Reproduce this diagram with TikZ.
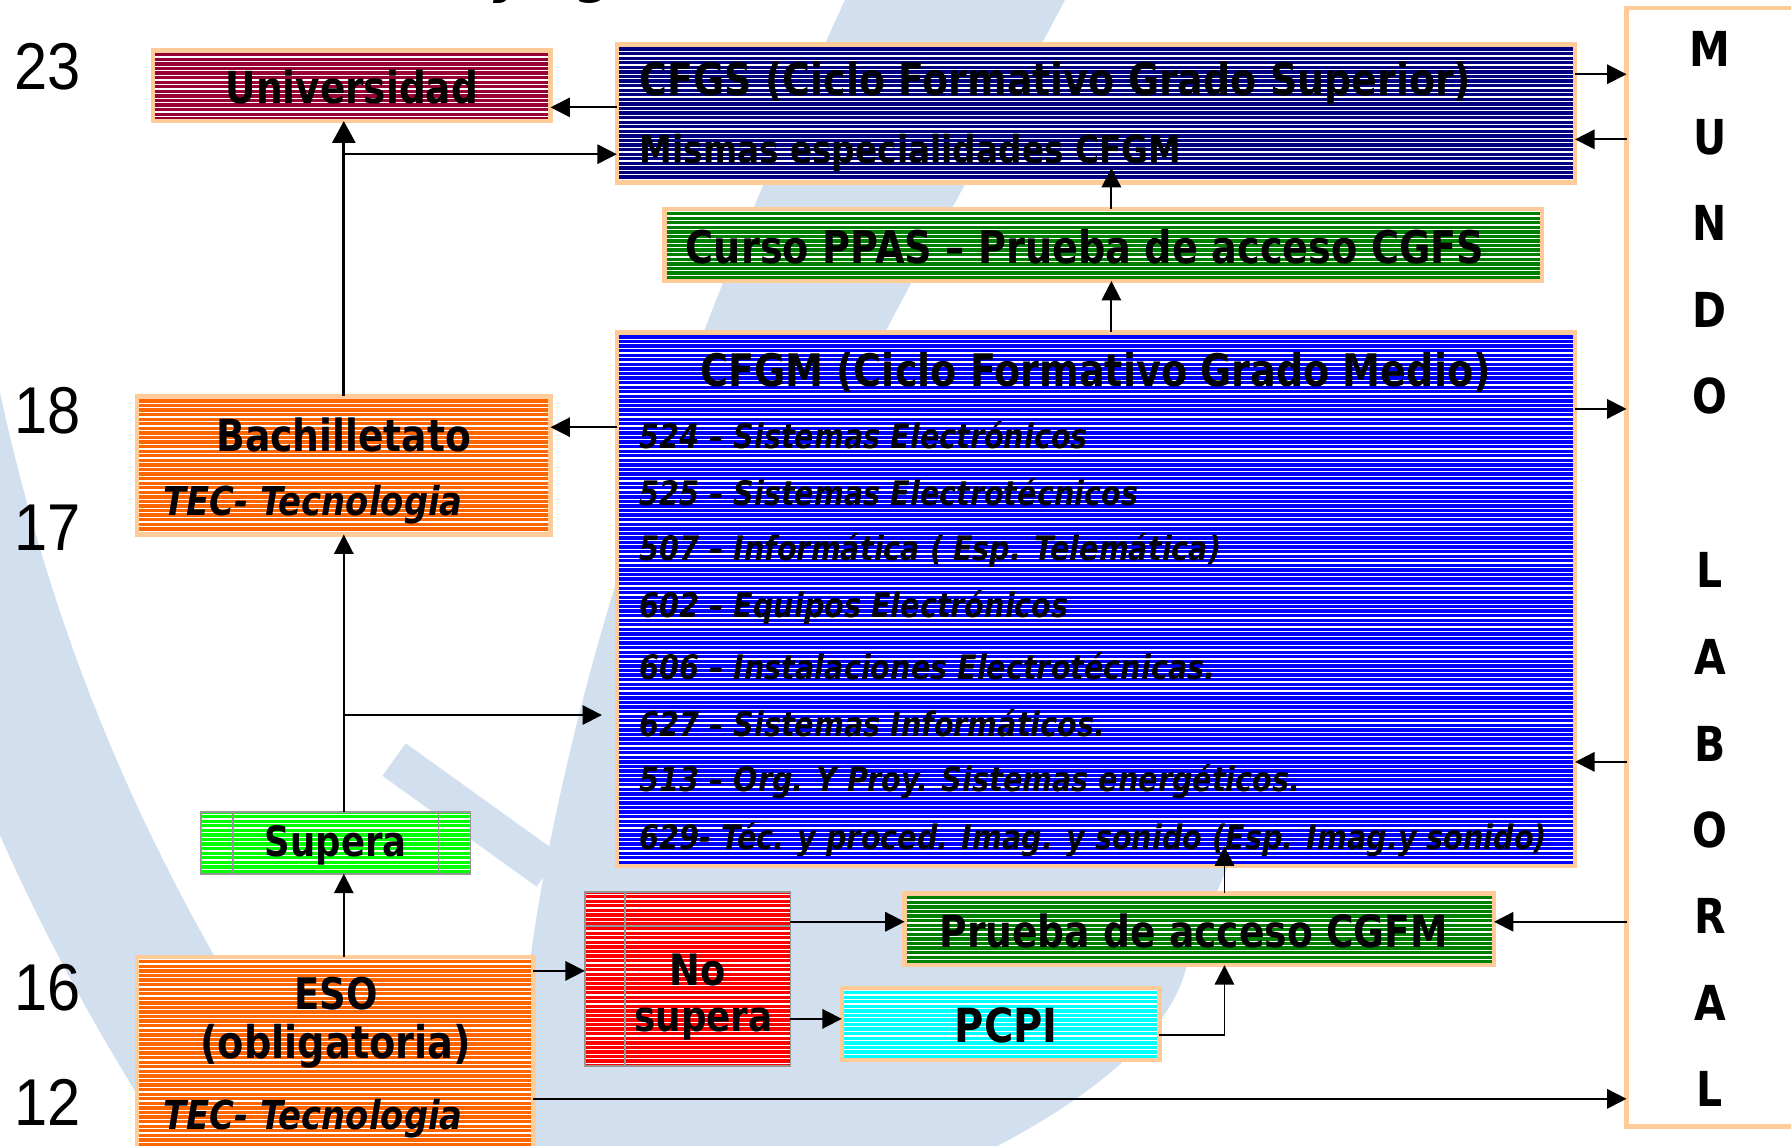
\documentclass[tikz,border=0pt]{standalone}
\usepackage{fontspec}
\setmainfont{DejaVu Sans}[FakeStretch=0.85]
\newfontfamily\numfont{Liberation Sans}
\usetikzlibrary{arrows.meta,fit}
\newlength\pxu \setlength\pxu{0.02cm}
\definecolor{peachc}{RGB}{255,204,153}
\definecolor{univc}{RGB}{153,0,51}
\definecolor{navyc}{RGB}{0,0,128}
\definecolor{greenc}{RGB}{0,128,0}
\definecolor{bluec}{RGB}{0,0,255}
\definecolor{orangec}{RGB}{255,102,0}
\definecolor{limec}{RGB}{0,255,0}
\definecolor{redc}{RGB}{255,0,0}
\definecolor{cyanc}{RGB}{0,255,255}
\definecolor{grayc}{RGB}{150,150,150}
\definecolor{wmc}{RGB}{210,223,238}
\newcommand\bw[2]{\resizebox{#1\pxu}{!}{\bfseries #2}}
\newcommand\biw[2]{\resizebox{#1\pxu}{!}{\bfseries\itshape #2}}
% name, x1, y1, x2, y2, fill colour, border style
\newcommand\stripebox[7]{%
  \fill[#6] (#2,#3) rectangle (#4,#5);
  \begin{scope}
    \clip (#2,#3) rectangle (#4,#5);
    \pgfmathsetmacro\sya{#3+2}\pgfmathsetmacro\syb{#3+6}
    \foreach \yy in {\sya,\syb,...,#5} \draw[stripe] (#2,\yy) -- (#4,\yy);
  \end{scope}
  \node[fit={(#2,#3) (#4,#5)}, inner sep=0pt, outer sep=0pt, #7] (#1) {};
}
\tikzset{
  stripe/.style={draw=white, line width=0.022cm},
  pbox/.style={draw=peachc, line width=0.08cm},
  gbox/.style={draw=grayc, line width=0.03cm},
  gridl/.style={draw=grayc, line width=0.03cm},
  arr/.style={draw=black, line width=0.032cm, -{Triangle[length=0.34cm,width=0.34cm]}},
  arrthick/.style={draw=black, line width=0.054cm, -{Triangle[length=0.38cm,width=0.40cm]}},
  lbl/.style={inner sep=0pt, outer sep=0pt, text=black},
  age/.style={inner sep=0pt, outer sep=0pt, font=\numfont\fontsize{33}{33}\selectfont},
  mletter/.style={inner sep=0pt, outer sep=0pt, font=\bfseries\fontsize{24}{24}\selectfont},
  listitem/.style={inner sep=0pt, outer sep=0pt, anchor=west, font=\bfseries\itshape\fontsize{16.8}{18}\selectfont},
}
\begin{document}
\begin{tikzpicture}[x=0.02cm,y=-0.02cm]
\useasboundingbox (0,0) rectangle (1568,1003);
% watermark
\fill[wmc] (742,-5) .. controls (680,130) and (560,400) .. (500,654)
  .. controls (470,780) and (450,900) .. (456,1010) -- (860,1010)
  .. controls (960,960) and (1030,900) .. (1040,840) -- (1100,700) -- (760,320)
  .. controls (800,240) and (880,100) .. (935,-5) -- cycle;
\draw[wmc, line width=2.4cm] (-70,300) .. controls (-10,620) and (110,850) .. (260,1060);
\draw[wmc, line width=0.7cm] (345,665) -- (480,762);
% helper coordinates
\foreach \h in {65,94,122,135,358,374,626,667,807,850,892,906,962} \coordinate (h\h) at (0,\h);
\coordinate (v973) at (973,0);
\coordinate (v1072) at (1072,0);
% boxes
\stripebox{univ}{134}{44}{482}{106}{univc}{pbox}
\stripebox{cfgs}{540}{39}{1379}{160}{navyc}{pbox}
\stripebox{ppas}{582}{183}{1350}{246}{greenc}{pbox}
\stripebox{cfgm}{540}{291}{1379}{758}{bluec}{pbox}
\stripebox{bach}{120}{347}{482}{468}{orangec}{pbox}
\stripebox{sup}{176}{711}{412}{765}{limec}{gbox}
\stripebox{eso}{120}{838}{467}{1020}{orangec}{pbox}
\stripebox{nosup}{512}{781}{692}{933}{redc}{gbox}
\stripebox{prueba}{792}{782}{1308}{845}{greenc}{pbox}
\stripebox{pcpi}{737}{865}{1015}{928}{cyanc}{pbox}
\node[fit={(1424,7) (1620,986)}, inner sep=0pt, outer sep=0pt, fill=white, pbox] (mundo) {};
\draw[gridl] (204,711) -- (204,765);
\draw[gridl] (384,711) -- (384,765);
\draw[gridl] (547,781) -- (547,933);
\draw[gridl] (512,811) -- (692,811);
% ages
\node[age] (n23) at (42,58) {\scalebox{0.9}[1]{23}};
\node[age] (n18) at (42,360) {\scalebox{0.9}[1]{18}};
\node[age] (n17) at (42,462) {\scalebox{0.9}[1]{17}};
\node[age] (n16) at (42,865) {\scalebox{0.9}[1]{16}};
\node[age] (n12) at (42,965) {\scalebox{0.9}[1]{12}};
% title fragment (cut by the top edge, as in the reference)
\node[lbl, anchor=base west] (ttitle) at (432,-8) {\bfseries\itshape\fontsize{30}{30}\selectfont y\hspace{0.9cm}g};
% texts
\node[lbl] (tuniv) at (308,76) {\bw{221}{Universidad}};
\node[lbl,anchor=west] (tcfgs) at (560,73) {\bw{728}{CFGS (Ciclo Formativo Grado Superior)}};
\node[lbl,anchor=west] (tmis) at (560,134) {\bw{474}{Mismas especialidades CFGM}};
\node[lbl] (tppas) at (950,216) {\bw{699}{Curso PPAS – Prueba de acceso CGFS}};
\node[lbl] (tcfgm) at (959,326) {\bw{692}{CFGM (Ciclo Formativo Grado Medio)}};
\node[listitem] (l1) at (560,381) {524 – Sistemas Electrónicos};
\node[listitem] (l2) at (560,431) {525 – Sistemas Electrotécnicos};
\node[listitem] (l3) at (560,482) {507 – Informática ( Esp. Telemática)};
\node[listitem] (l4) at (560,532) {602 – Equipos Electrónicos};
\node[listitem] (l5) at (560,583) {606 – Instalaciones Electrotécnicas.};
\node[listitem] (l6) at (560,633) {627 – Sistemas Informáticos.};
\node[listitem] (l7) at (560,684) {513 – Org. Y Proy. Sistemas energéticos.};
\node[listitem] (l8) at (560,735) {629- Téc. y proced. Imag. y sonido (Esp. Imag.y sonido)};
\node[lbl] (tbach) at (301,381) {\bw{223}{Bachilletato}};
\node[lbl,anchor=west] (ttec1) at (143,442) {\biw{262}{TEC- Tecnologia}};
\node[lbl] (tsup) at (294,740) {\bw{124}{Supera}};
\node[lbl] (teso) at (294,870) {\bw{73}{ESO}};
\node[lbl] (tobl) at (294,916) {\bw{237}{(obligatoria)}};
\node[lbl,anchor=west] (ttec2) at (143,979) {\biw{262}{TEC- Tecnologia}};
\node[lbl] (tno) at (611,849) {\bw{49}{No}};
\node[lbl] (tnosup) at (616,897) {\bw{121}{supera}};
\node[lbl] (tprueba) at (1045,815) {\bw{445}{Prueba de acceso CGFM}};
\node[lbl] (tpcpi) at (881,898) {\bw{90}{PCPI}};
% MUNDO LABORAL
\node[mletter] (m1) at (1497,43) {M};
\node[mletter] (m2) at (1497,120) {U};
\node[mletter] (m3) at (1497,195) {N};
\node[mletter] (m4) at (1497,271) {D};
\node[mletter] (m5) at (1497,347) {O};
\node[mletter] (m6) at (1497,499) {L};
\node[mletter] (m7) at (1497,575) {A};
\node[mletter] (m8) at (1497,651) {B};
\node[mletter] (m9) at (1497,727) {O};
\node[mletter] (m10) at (1497,802) {R};
\node[mletter] (m11) at (1497,878) {A};
\node[mletter] (m12) at (1497,953) {L};
% connectors
\draw[arr] (cfgs.west |- h94) -- (univ.east |- h94);
\draw[arrthick] (bach.north) -- (bach.north |- univ.south);
\draw[arr] (bach.north |- h135) -- (cfgs.west |- h135);
\draw[arr, shorten >=-0.26cm] (v973 |- ppas.north) -- (v973 |- cfgs.south);
\draw[arr] (v973 |- cfgm.north) -- (v973 |- ppas.south);
\draw[arr] (cfgs.east |- h65) -- (mundo.west |- h65);
\draw[arr] (mundo.west |- h122) -- (cfgs.east |- h122);
\draw[arr] (cfgm.east |- h358) -- (mundo.west |- h358);
\draw[arr] (mundo.west |- h667) -- (cfgm.east |- h667);
\draw[arr] (cfgm.west |- h374) -- (bach.east |- h374);
\draw[arr] (bach.south |- sup.north) -- (bach.south);
\draw[arr, shorten >=0.26cm] (bach.south |- h626) -- (cfgm.west |- h626);
\draw[arr] (bach.south |- eso.north) -- (bach.south |- sup.south);
\draw[arr] (eso.east |- h850) -- (nosup.west |- h850);
\draw[arr] (nosup.east |- h807) -- (prueba.west |- h807);
\draw[arr] (nosup.east |- h892) -- (pcpi.west |- h892);
\draw[arr] (pcpi.east |- h906) -| (v1072 |- prueba.south);
\draw[arr, shorten >=-0.34cm] (v1072 |- prueba.north) -- (v1072 |- cfgm.south);
\draw[arr] (mundo.west |- h807) -- (prueba.east |- h807);
\draw[arr] (eso.east |- h962) -- (mundo.west |- h962);
\end{tikzpicture}
\end{document}
